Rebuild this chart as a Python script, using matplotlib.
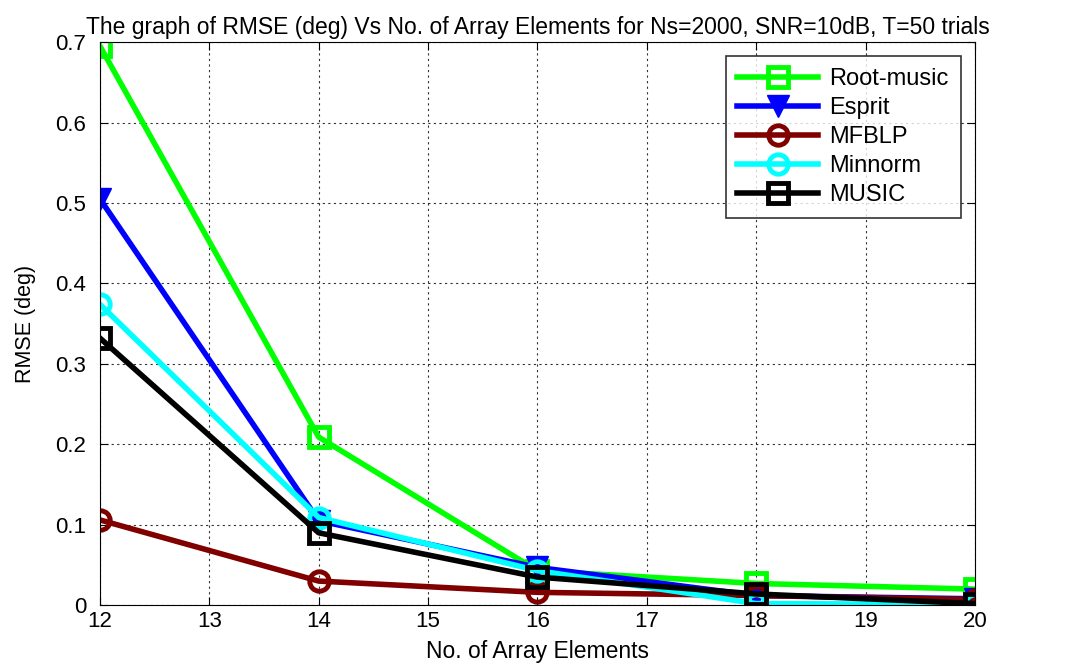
import matplotlib
matplotlib.use("Agg")
import matplotlib.pyplot as plt

plt.rcParams['font.family'] = ['Liberation Sans', 'DejaVu Sans']

elements = [12, 14, 16, 18, 20]
root_music = [0.695, 0.209, 0.043, 0.027, 0.020]
esprit = [0.505, 0.105, 0.047, 0.012, 0.008]
mfblp = [0.106, 0.030, 0.016, 0.012, 0.007]
minnorm = [0.374, 0.109, 0.043, 0.002, 0.001]
music = [0.332, 0.090, 0.035, 0.014, 0.002]

fig = plt.figure(figsize=(10.69, 6.68), dpi=100)
ax = fig.add_axes([0.0935, 0.094, 0.8185, 0.843])

ax.plot(elements, root_music, color='#00ff00', lw=4, marker='s', ms=14,
        mfc='none', mew=3.5, label='Root-music')
ax.plot(elements, esprit, color='#0000ff', lw=4, marker='v', ms=16,
        label='Esprit')
ax.plot(elements, mfblp, color='#800000', lw=4, marker='o', ms=14,
        mfc='none', mew=3.5, label='MFBLP')
ax.plot(elements, minnorm, color='#00ffff', lw=4, marker='o', ms=14,
        mfc='none', mew=3.5, label='Minnorm')
ax.plot(elements, music, color='black', lw=4, marker='s', ms=14,
        mfc='none', mew=3.5, label='MUSIC')

ax.set_xlim(12, 20)
ax.set_ylim(0, 0.7)
ax.set_xticks(range(12, 21))
ax.set_yticks([0, 0.1, 0.2, 0.3, 0.4, 0.5, 0.6, 0.7])
ax.set_yticklabels(['0', '0.1', '0.2', '0.3', '0.4', '0.5', '0.6', '0.7'])
ax.tick_params(direction='in', labelsize=16, top=True, right=True, length=6)
ax.tick_params(axis='y', pad=10)
ax.tick_params(axis='x', pad=4)
ax.grid(True, linestyle=(0, (2, 3)), color='black', lw=0.8, alpha=0.8)

ax.set_xlabel('No. of Array Elements', fontsize=16.5, labelpad=6)
ax.set_ylabel('RMSE (deg)', fontsize=15.5, labelpad=14)
ax.set_title('The graph of RMSE (deg) Vs No. of Array Elements for Ns=2000, SNR=10dB, T=50 trials',
             fontsize=16.5, pad=6)

leg = ax.legend(loc='upper right', fontsize=17, fancybox=False, edgecolor='black',
                handlelength=3.4, borderaxespad=0.6, labelspacing=0.3,
                handletextpad=0.5, borderpad=0.5)
leg.get_frame().set_linewidth(1.2)

fig.savefig('out.png', dpi=100)
